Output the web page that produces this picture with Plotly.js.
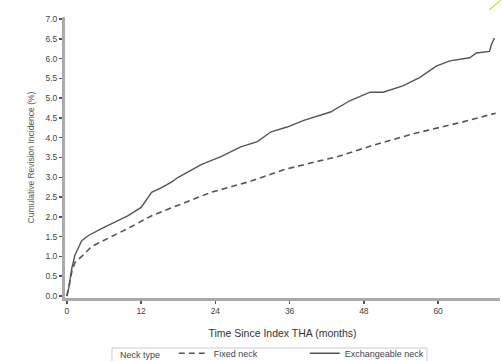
<!DOCTYPE html>
<html><head><meta charset="utf-8">
<script src="https://cdn.plot.ly/plotly-3.0.1.min.js"></script>
<style>html,body{margin:0;padding:0;background:#fff}#chart{width:502px;height:361px}</style>
</head><body><div id="chart"></div>
<script>
const exchMonths = [0, 0.3, 0.8, 1.3, 2.4, 3.5, 5.6, 7.7, 9.9, 12.0, 13.7, 15.3, 16.9, 18.0, 21.7, 24.9, 28.1, 30.8, 33.0, 35.6, 38.3, 42.6, 45.8, 49.0, 51.1, 54.3, 57.0, 59.7, 61.9, 65.1, 66.2, 68.3, 68.6, 69.1];
const exchValues = [0, 0.2, 0.7, 1.03, 1.4, 1.53, 1.7, 1.87, 2.03, 2.24, 2.62, 2.74, 2.88, 3.0, 3.32, 3.52, 3.77, 3.9, 4.15, 4.27, 4.44, 4.65, 4.94, 5.15, 5.15, 5.31, 5.52, 5.81, 5.94, 6.02, 6.14, 6.18, 6.35, 6.52];
const fixedMonths = [0, 0.3, 0.8, 1.3, 2.4, 4.0, 7.2, 10.4, 13.7, 18.0, 23.3, 29.7, 35.0, 39.4, 43.7, 49.5, 56.0, 64.0, 69.3];
const fixedValues = [0, 0.2, 0.62, 0.85, 1.0, 1.25, 1.5, 1.75, 2.03, 2.3, 2.62, 2.9, 3.19, 3.36, 3.52, 3.81, 4.1, 4.4, 4.62];
const xTicks = [0, 12, 24, 36, 48, 60];
const seriesNames = ["Fixed neck", "Exchangeable neck"];
const legendTitle = "Neck type";

const fam = "Liberation Sans, Arial, sans-serif";
const font = {family: fam, size: 9, color: "#444"};
const tfont = {family: fam, size: 8.5, color: "#444"};
const traces = [
  {x: fixedMonths, y: fixedValues, name: seriesNames[0], mode: "lines",
   line: {color: "#555", width: 1.6, dash: "6px,4px"}},
  {x: exchMonths, y: exchValues, name: seriesNames[1], mode: "lines",
   line: {color: "#555", width: 1.4}}
];
const layout = {
  width: 502, height: 361,
  margin: {l: 65, r: 2, t: 17, b: 63, autoexpand: false},
  paper_bgcolor: "#fff", plot_bgcolor: "#fff",
  font: font,
  showlegend: true,
  xaxis: {range: [-0.3, 70], tickvals: xTicks, ticks: "outside", ticklen: 3, tickwidth: 1.5,
    tickcolor: "#555", showline: true, linecolor: "#aaa", linewidth: 3, showgrid: false,
    zeroline: false, tickfont: tfont,
    title: {text: "Time Since Index THA (months)", font: {family: fam, size: 10.5, color: "#333"}, standoff: 15}},
  yaxis: {range: [-0.05, 7.05], dtick: 0.5, tick0: 0, tickformat: ".1f", ticks: "outside",
    ticklen: 3, tickwidth: 1.5, tickcolor: "#555", showline: true, linecolor: "#aaa",
    linewidth: 3, showgrid: false, zeroline: false, tickfont: tfont,
    title: {text: "Cumulative Revision Incidence (%)", font: {family: fam, size: 8.5, color: "#555"}, standoff: 10}},
  legend: {orientation: "h", x: 0.25, xanchor: "left", y: -0.145, yanchor: "top",
    borderwidth: 0, bgcolor: "rgba(0,0,0,0)", font: font, entrywidth: 86, itemwidth: 30,
    tracegroupgap: 0},
  annotations: [{xref: "paper", yref: "paper", x: 0.122, xanchor: "left", y: -0.203, yanchor: "middle",
    text: legendTitle, showarrow: false, font: font}],
  shapes: [
    {type: "rect", xref: "paper", yref: "paper", x0: 0.108, x1: 0.832, y0: -0.178, y1: -0.25,
     line: {color: "#ccc", width: 1}, fillcolor: "rgba(0,0,0,0)"},
    {type: "line", xref: "paper", yref: "paper", x0: 0.975, y0: 1.025, x1: 1.005, y1: 1.065,
     line: {color: "#dede20", width: 1.2}}]
};
Plotly.newPlot("chart", traces, layout, {displayModeBar: false, staticPlot: true});
</script></body></html>
